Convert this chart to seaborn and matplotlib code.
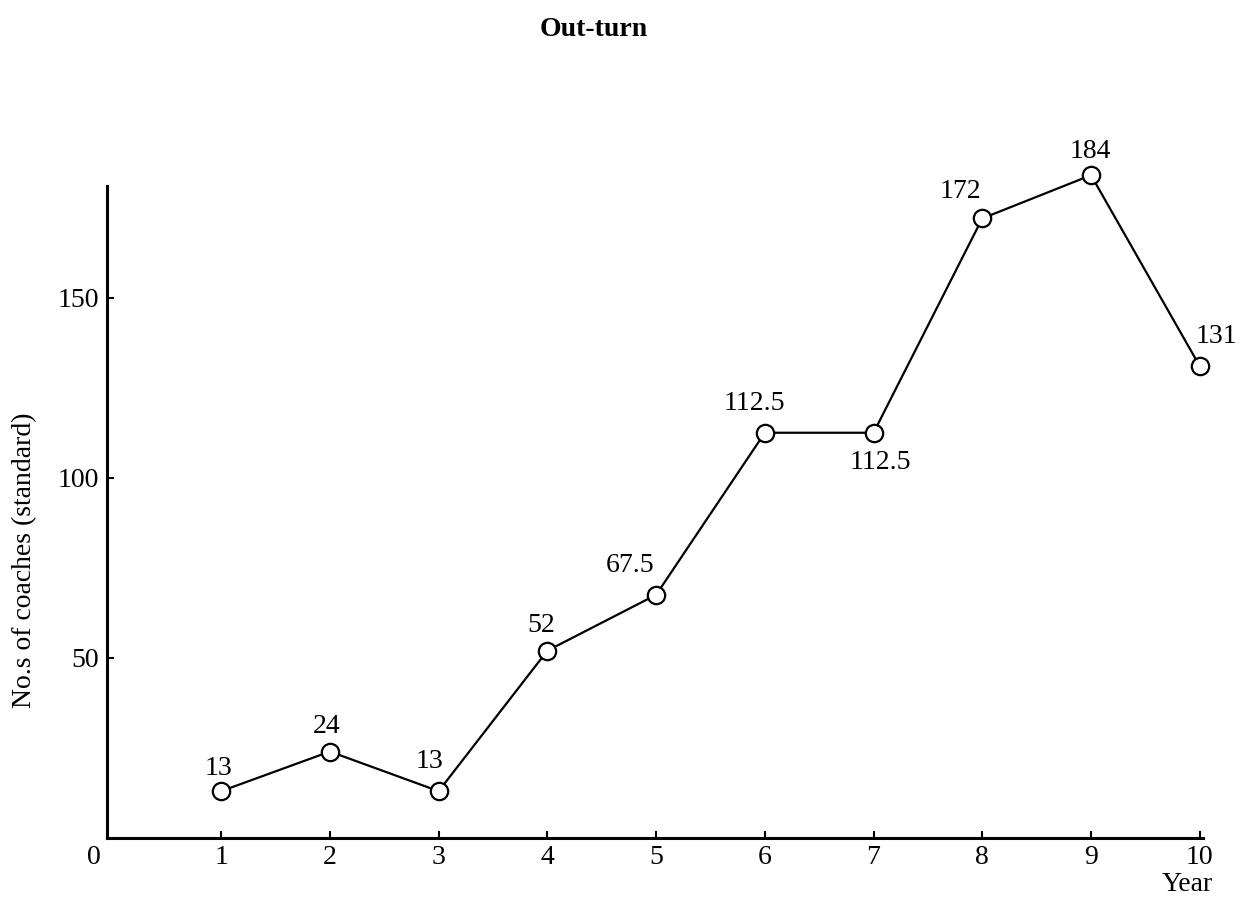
import matplotlib
matplotlib.use("Agg")
import matplotlib.pyplot as plt
import seaborn as sns
import pandas as pd

years = [1, 2, 3, 4, 5, 6, 7, 8, 9, 10]
coaches = [13, 24, 13, 52, 67.5, 112.5, 112.5, 172, 184, 131]
value_labels = ["13", "24", "13", "52", "67.5", "112.5", "112.5", "172", "184", "131"]
label_offsets = [(-3, 23), (-3, 25), (-9, 30), (-6, 25), (-26, 29),
                 (-10, 29), (7, -30), (-22, 27), (-1, 24), (17, 30)]
xticks = years
yticks = [50, 100, 150]
title = "Out-turn"
ylabel = "No.s of coaches (standard)"
xlabel = "Year"

sns.set_theme(style="ticks")
plt.rcParams['font.family'] = ['Liberation Serif', 'DejaVu Serif']

W, H = 1242, 905
fig = plt.figure(figsize=(W / 100, H / 100), dpi=100)
ax = fig.add_axes([107 / W, (H - 838) / H, (1203 - 107) / W, (838 - 186) / H])

df = pd.DataFrame({"Year": years, "Coaches": coaches})
sns.lineplot(data=df, x="Year", y="Coaches", ax=ax, color="black", lw=1.6,
             marker="o", markersize=12.5, markerfacecolor="white",
             markeredgecolor="black", markeredgewidth=1.6, zorder=3,
             clip_on=False)

ax.set_xlim(-0.05, 10.03)
ax.set_ylim(0, 181)
ax.set_xticks(xticks)
ax.set_xticklabels([str(v) for v in xticks])
ax.set_yticks(yticks)
ax.set_yticklabels([str(v) for v in yticks])
ax.set_xlabel("")
ax.set_ylabel("")
for s in ["top", "right"]:
    ax.spines[s].set_visible(False)
for s in ["left", "bottom"]:
    ax.spines[s].set_linewidth(2.2)
    ax.spines[s].set_color("black")
ax.tick_params(axis="both", direction="in", length=5, width=1.5, colors="black",
               labelsize=20)
ax.tick_params(axis="y", pad=6)
ax.tick_params(axis="x", pad=5)

for x, y, lab, off in zip(years, coaches, value_labels, label_offsets):
    ax.annotate(lab, xy=(x, y), xytext=off, textcoords="offset pixels",
                ha="center", va="center", fontsize=20, color="black",
                annotation_clip=False)

ax.annotate("0", xy=(0, 0), xytext=(-19, -19), textcoords="offset pixels",
            ha="center", va="center", fontsize=20, color="black",
            annotation_clip=False)
ax.annotate(xlabel, xy=(10, 0), xytext=(-12, -46), textcoords="offset pixels",
            ha="center", va="center", fontsize=20, color="black",
            annotation_clip=False)

fig.text(594 / W, 1 - 30 / H, title, ha="center", va="center",
         fontsize=20, fontweight="bold", color="black")
fig.text(25 / W, 1 - 560 / H, ylabel, rotation=90, ha="center", va="center",
         fontsize=20, color="black")

fig.savefig("out.png", dpi=100, facecolor="white")
